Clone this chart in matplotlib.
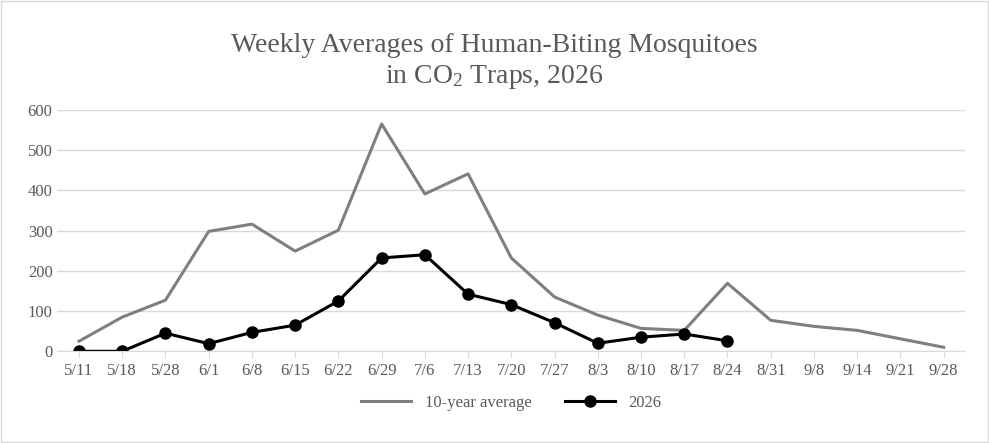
import matplotlib
matplotlib.use("Agg")
import matplotlib.pyplot as plt
from matplotlib.patches import Rectangle

dates = ["5/11","5/18","5/28","6/1","6/8","6/15","6/22","6/29","7/6","7/13","7/20","7/27","8/3","8/10","8/17","8/24","8/31","9/8","9/14","9/21","9/28"]
avg10 = [25,85,127,298,316,249,301,565,391,441,232,135,90,57,52,169,77,62,52,31,10]
y2026 = [0,0,45,19,47,65,125,232,240,142,116,71,20,35,43,26]

plt.rcParams['font.family'] = ['Liberation Serif', 'DejaVu Serif']
plt.rcParams['mathtext.fontset'] = 'custom'
plt.rcParams['mathtext.rm'] = 'Liberation Serif'
plt.rcParams['mathtext.it'] = 'Liberation Serif:italic'
fig = plt.figure(figsize=(9.89,4.43), dpi=100)
ax = fig.add_axes([0.058, 0.207, 0.918, 0.545])
x = list(range(len(dates)))
ax.plot(x, avg10, color='#7f7f7f', lw=2.2, label='10-year average')
ax.plot(x[:len(y2026)], y2026, color='black', lw=2.2, marker='o', ms=8, label='2026')
ax.set_xlim(-0.5, len(dates)-0.5)
ax.set_ylim(0, 600)
ax.set_yticks(range(0,601,100))
ax.set_xticks(x)
ax.set_xticklabels(dates)
ax.tick_params(colors='#595959', labelsize=12, length=0)
ax.tick_params(axis='x', length=5, color='#d9d9d9')
ax.grid(axis='y', color='#d9d9d9', lw=1)
for s in ['top','right','left']:
    ax.spines[s].set_visible(False)
ax.spines['bottom'].set_color('#d9d9d9')
ax.set_axisbelow(True)
fig.text(0.5, 0.86, 'Weekly Averages of Human-Biting Mosquitoes\nin CO$_\\mathrm{2}$ Traps, 2026', ha='center', va='center', fontsize=20, color='#595959', linespacing=1.25)
ax.legend(loc='upper center', bbox_to_anchor=(0.5, -0.12), ncol=2, frameon=False, fontsize=12, labelcolor='#595959', handlelength=3, columnspacing=2)
fig.patches.append(Rectangle((0.001,0.002), 0.998, 0.996, transform=fig.transFigure, fill=False, edgecolor='#d9d9d9', lw=1))
fig.savefig('out.png', dpi=100, facecolor='white')
